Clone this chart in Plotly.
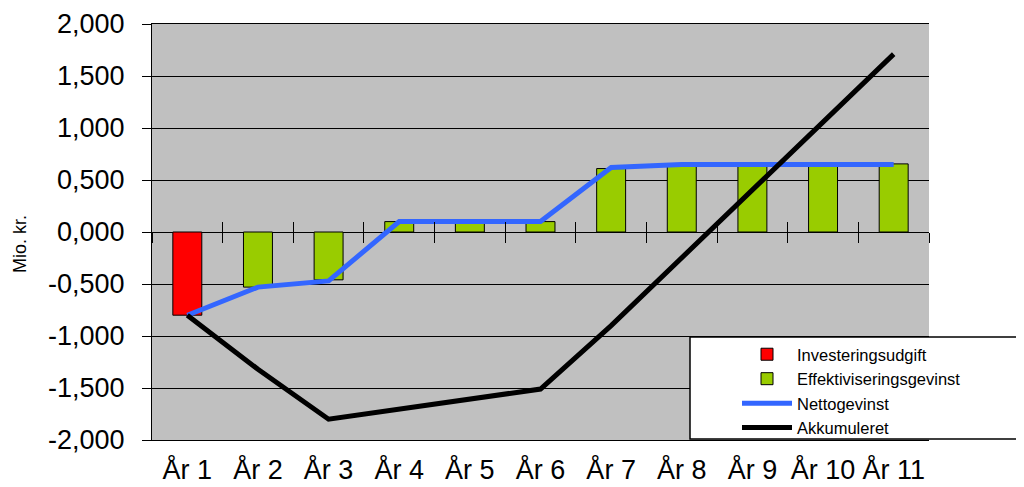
import plotly.graph_objects as go

categories = ["År 1", "År 2", "År 3", "År 4", "År 5", "År 6",
              "År 7", "År 8", "År 9", "År 10", "År 11"]
investering = [-0.80, None, None, None, None, None, None, None, None, None, None]
effektivisering = [None, -0.53, -0.46, 0.10, 0.10, 0.10, 0.61, 0.645, 0.645, 0.645, 0.655]
netto = [-0.80, -0.53, -0.47, 0.10, 0.10, 0.10, 0.62, 0.65, 0.65, 0.65, 0.65]
akkumuleret = [-0.80, -1.32, -1.80, -1.70, -1.60, -1.51, -0.90, -0.25, 0.40, 1.05, 1.71]

y_tickvals = [-2.0, -1.5, -1.0, -0.5, 0.0, 0.5, 1.0, 1.5, 2.0]
y_ticktext = ["-2,000", "-1,500", "-1,000", "-0,500", "0,000", "0,500", "1,000", "1,500", "2,000"]

FONT = "Liberation Sans, Arial, sans-serif"

# page has an 8px body margin: figure spans 8..1024 x 8..487
OFF = 8
L, T, R, B = 152, 24, 929, 440
W, H = 1024 - OFF, 487 - OFF
PW, PH = R - L, B - T

def px(x):
    return (x - L) / PW

def py(y):
    return (B - y) / PH

fig = go.Figure()
fig.add_trace(go.Bar(x=categories, y=investering, name="Investeringsudgift",
                     marker=dict(color="#FF0000", line=dict(color="black", width=1)),
                     width=0.41))
fig.add_trace(go.Bar(x=categories, y=effektivisering, name="Effektiviseringsgevinst",
                     marker=dict(color="#99CC00", line=dict(color="black", width=1)),
                     width=0.41))
fig.add_trace(go.Scatter(x=categories, y=netto, name="Nettogevinst", mode="lines",
                         line=dict(color="#3366FF", width=5)))
fig.add_trace(go.Scatter(x=categories, y=akkumuleret, name="Akkumuleret", mode="lines",
                         line=dict(color="black", width=5)))

# axes carrying the crossing tick marks on the zero line
boundaries = [i - 0.5 for i in range(len(categories) + 1)]
fig.add_trace(go.Scatter(x=[], y=[], xaxis="x2", showlegend=False, hoverinfo="skip"))
fig.add_trace(go.Scatter(x=[], y=[], xaxis="x3", showlegend=False, hoverinfo="skip"))

fig.update_layout(
    width=W, height=H,
    margin=dict(l=L - OFF, r=1024 - R, t=T - OFF, b=487 - B, autoexpand=False),
    paper_bgcolor="white",
    plot_bgcolor="#C0C0C0",
    barmode="overlay",
    font=dict(family=FONT, color="black"),
    showlegend=True,
    legend=dict(x=px(737), y=py(337), xanchor="left", yanchor="top",
                bgcolor="rgba(0,0,0,0)", borderwidth=0,
                font=dict(size=16.5, family=FONT), itemwidth=50,
                traceorder="normal", tracegroupgap=0),
    shapes=[dict(type="rect", xref="paper", yref="paper",
                 x0=px(690), x1=px(1040), y0=py(439), y1=py(337),
                 fillcolor="white", line=dict(color="black", width=1.5),
                 layer="above")],
    xaxis=dict(type="category", range=[-0.5, 10.5], showgrid=False,
               showline=True, linecolor="black", linewidth=1, mirror=True,
               ticks="", tickfont=dict(size=27), ticklabelstandoff=6),
    xaxis2=dict(overlaying="x", anchor="free", position=0.5, range=[-0.5, 10.5],
                tickmode="array", tickvals=boundaries, showticklabels=False,
                ticks="outside", ticklen=10, tickcolor="black", showgrid=False,
                showline=False, zeroline=False),
    xaxis3=dict(overlaying="x", anchor="free", position=0.5, range=[-0.5, 10.5],
                tickmode="array", tickvals=boundaries, showticklabels=False,
                ticks="inside", ticklen=10, tickcolor="black", showgrid=False,
                showline=False, zeroline=False),
    yaxis=dict(range=[-2, 2], tickmode="array", tickvals=y_tickvals, ticktext=y_ticktext,
               showgrid=True, gridcolor="black", gridwidth=1,
               zeroline=True, zerolinecolor="black", zerolinewidth=1,
               showline=True, linecolor="black", linewidth=1,
               ticks="outside", ticklen=9, tickcolor="black",
               tickfont=dict(size=27), ticklabelstandoff=12),
    annotations=[dict(text="Mio. kr.", xref="paper", yref="paper",
                      x=px(20), y=py(244), xanchor="center", yanchor="middle",
                      showarrow=False, textangle=-90,
                      font=dict(size=18, family=FONT))],
)

fig.write_html("out.html")
